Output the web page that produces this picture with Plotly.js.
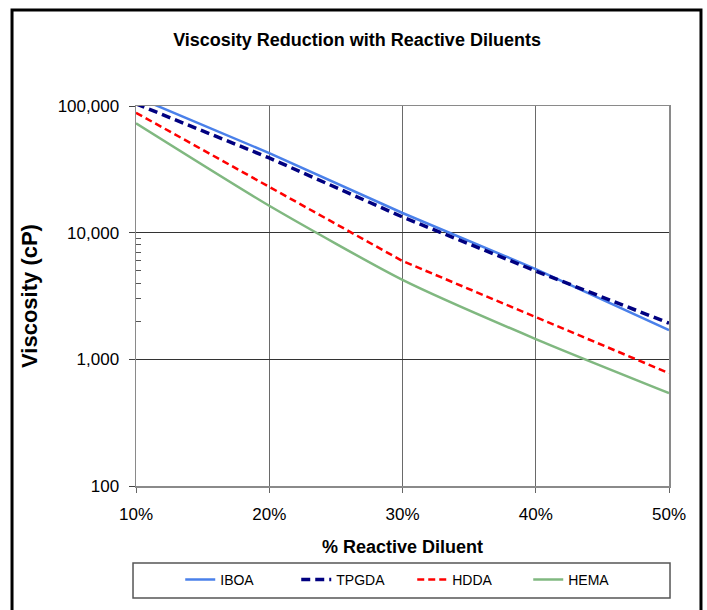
<!DOCTYPE html>
<html>
<head>
<meta charset="utf-8">
<script src="https://cdn.plot.ly/plotly-3.0.1.min.js"></script>
<style>html,body{margin:0;padding:0;background:#fff;}#chart{width:707px;height:610px;}</style>
</head>
<body>
<div id="chart"></div>
<script>
// Data
const diluentPct = [10, 20, 30, 40, 50];
const iboa  = [118000, 42500, 14300, 5160, 1700];
const tpgda = [104000, 38900, 13300, 4980, 1930];
const hdda  = [88500, 22900, 5970, 2155, 778];
const hema  = [73000, 16300, 4240, 1445, 541];
const seriesNames = ['IBOA', 'TPGDA', 'HDDA', 'HEMA'];
const xTickVals = [10, 20, 30, 40, 50];
const xTickText = ['10%', '20%', '30%', '40%', '50%'];
const yTickVals = [100, 1000, 10000, 100000];
const yTickText = ['100', '1,000', '10,000', '100,000'];
const yMinorVals = [2000, 3000, 4000, 5000, 6000, 7000, 8000, 9000];

const font = '"Liberation Sans", Arial, sans-serif';

const traces = [
  {x: diluentPct, y: iboa, name: seriesNames[0], mode: 'lines',
   line: {color: '#4a80ea', width: 2.5}},
  {x: diluentPct, y: tpgda, name: seriesNames[1], mode: 'lines',
   line: {color: '#000080', width: 3.5, dash: '9px,5px'}},
  {x: diluentPct, y: hdda, name: seriesNames[2], mode: 'lines',
   line: {color: '#ff0000', width: 2.5, dash: '7px,4px'}},
  {x: diluentPct, y: hema, name: seriesNames[3], mode: 'lines',
   line: {color: '#80b880', width: 2.5, shape: 'spline', smoothing: 0.6}},
  // carrier for the minor-tick overlay axis (draws nothing visible)
  {x: diluentPct, y: hema, yaxis: 'y2', mode: 'lines', showlegend: false,
   hoverinfo: 'skip', line: {color: 'rgba(0,0,0,0)', width: 0}}
];

const layout = {
  width: 707, height: 610,
  margin: {l: 136, r: 38, t: 106, b: 124},
  paper_bgcolor: '#fff', plot_bgcolor: '#fff',
  showlegend: true,
  title: {text: 'Viscosity Reduction with Reactive Diluents',
          font: {family: font, size: 18, color: '#000', weight: 'bold'},
          x: 0.505, xanchor: 'center', y: 0.935, yanchor: 'middle'},
  xaxis: {
    range: [10, 50], tickvals: xTickVals, ticktext: xTickText,
    showgrid: true, gridcolor: '#6a6a6a', gridwidth: 1,
    showline: true, linecolor: '#8a8a8a', linewidth: 1.5, mirror: true,
    ticks: 'outside', ticklen: 5, tickcolor: '#666',
    ticklabelstandoff: 7,
    tickfont: {family: font, size: 17, color: '#000'},
    zeroline: false,
    title: {text: '% Reactive Diluent', standoff: 17,
            font: {family: font, size: 18, color: '#000', weight: 'bold'}}
  },
  yaxis: {
    type: 'log', range: [2, 5],
    tickvals: yTickVals, ticktext: yTickText,
    showgrid: true, gridcolor: '#333', gridwidth: 1,
    showline: true, linecolor: '#8a8a8a', linewidth: 1.5, mirror: true,
    ticks: 'outside', ticklen: 6, tickcolor: '#444',
    ticklabelstandoff: 6,
    tickfont: {family: font, size: 17, color: '#000'},
    zeroline: false,
    title: {text: 'Viscosity (cP)', standoff: 14,
            font: {family: font, size: 22, color: '#000', weight: 'bold'}}
  },
  yaxis2: {
    type: 'log', range: [2, 5], overlaying: 'y', side: 'left',
    tickvals: yMinorVals, showticklabels: false,
    ticks: 'inside', ticklen: 5, tickcolor: '#555',
    showgrid: false, showline: false, zeroline: false
  },
  legend: {
    orientation: 'h', x: 0.083, xanchor: 'left', y: -0.247, yanchor: 'middle',
    bgcolor: 'rgba(0,0,0,0)', borderwidth: 0,
    entrywidth: 71, entrywidthmode: 'pixels',
    font: {family: font, size: 14, color: '#000'}
  },
  shapes: [
    {type: 'rect', xref: 'paper', yref: 'paper',
     x0: -0.2326, x1: 1.060, y0: -0.36, y1: 1.2526,
     line: {color: '#000', width: 3}, fillcolor: 'rgba(0,0,0,0)', layer: 'above'},
    {type: 'rect', xref: 'paper', yref: 'paper',
     x0: -0.0056, x1: 1.0019, y0: -0.2947, y1: -0.2026,
     line: {color: '#555', width: 1.5}, fillcolor: 'rgba(0,0,0,0)', layer: 'above'}
  ]
};

Plotly.newPlot('chart', traces, layout, {displayModeBar: false, staticPlot: true});
</script>
</body>
</html>
